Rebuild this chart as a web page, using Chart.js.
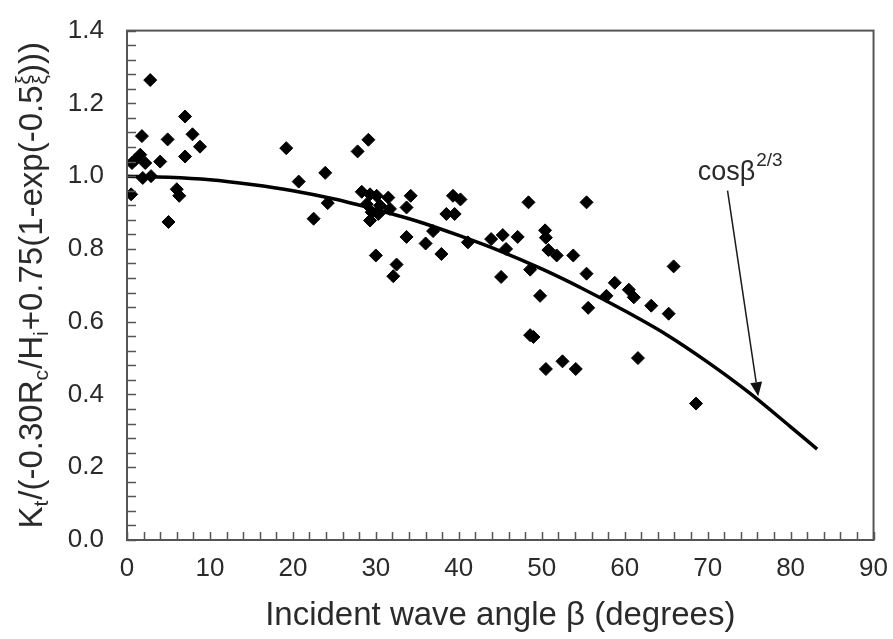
<!DOCTYPE html>
<html>
<head>
<meta charset="utf-8">
<script src="https://cdn.jsdelivr.net/npm/chart.js@4.4.1/dist/chart.umd.min.js"></script>
<style>
  html, body { margin: 0; padding: 0; background: #fff; }
  #wrap { width: 893px; height: 639px; }
</style>
</head>
<body>
<div id="wrap"><canvas id="chart" width="893" height="639"></canvas></div>
<script>
// measured points (angle in degrees, normalised transmission)
const angleDeg = [
  0.5, 0.6, 1.0, 1.6, 2.2, 1.9, 2.9, 1.8, 2.8, 4.0, 4.9, 5.0, 6.0, 6.3, 7.0, 7.0, 7.9, 8.8,
  19.2, 20.7, 22.5, 23.9, 24.2, 27.8, 29.1, 28.3, 29.3, 30.1, 31.5, 28.9, 30.5, 29.5, 30.3,
  29.3, 31.7, 34.2, 33.7, 39.3, 40.2, 38.5, 39.5, 33.7, 36.9, 36.0, 41.1, 37.9, 30.0, 32.5,
  32.1, 48.4, 55.4, 43.9, 45.3, 47.1, 45.7, 50.4, 50.5, 50.8, 51.8, 53.8, 45.1, 48.6, 55.4,
  49.8, 55.6, 58.8, 60.5, 61.1, 57.8, 63.2, 65.3, 65.9, 48.6, 49.0, 50.5, 52.5, 54.1, 61.6,
  68.6
];
const ktNorm = [
  0.950, 1.036, 1.045, 1.059, 1.036, 0.995, 1.000, 1.110, 1.264, 1.040, 1.101, 0.874, 0.964, 0.946, 1.164, 1.054, 1.115, 1.081,
  1.077, 0.985, 0.883, 1.009, 0.926, 1.068, 1.100, 0.957, 0.950, 0.946, 0.941, 0.923, 0.919, 0.901, 0.896,
  0.878, 0.910, 0.946, 0.914, 0.946, 0.936, 0.896, 0.896, 0.833, 0.849, 0.815, 0.818, 0.786, 0.782, 0.757,
  0.725, 0.928, 0.928, 0.827, 0.838, 0.833, 0.800, 0.851, 0.831, 0.797, 0.782, 0.782, 0.723, 0.743, 0.732,
  0.671, 0.638, 0.707, 0.688, 0.667, 0.671, 0.644, 0.622, 0.752, 0.563, 0.558, 0.470, 0.491, 0.470, 0.500,
  0.375
];

// cos(beta)^(2/3) curve
const curveAngle = [0, 5, 10, 15, 20, 25, 30, 35, 40, 45, 50, 55, 60, 65, 70, 75, 80, 83.2];
const curveValue = [1.0, 0.997, 0.99, 0.977, 0.96, 0.937, 0.908, 0.876, 0.837, 0.794, 0.745, 0.69, 0.63, 0.565, 0.489, 0.405, 0.311, 0.25];

const xTickLabels = [0, 10, 20, 30, 40, 50, 60, 70, 80, 90];
const yTickLabels = [0.0, 0.2, 0.4, 0.6, 0.8, 1.0, 1.2, 1.4];

// annotation: label position and arrow, in data units
const noteLabel = { x: 68.8, y: 0.99 };
const noteArrowFrom = { x: 72.4, y: 0.96 };
const noteArrowTo = { x: 76.1, y: 0.395 };

const FONT = '"Liberation Sans", Arial, Helvetica, sans-serif';
const TEXT = '#2a2a2a';
const AXIS = '#555555';

// frame with inward ticks on left and bottom
const frameTicks = {
  id: 'frameTicks',
  afterDatasetsDraw(chart) {
    const { ctx, chartArea: a, scales } = chart;
    ctx.save();
    ctx.strokeStyle = AXIS;
    ctx.lineWidth = 2;
    ctx.strokeRect(a.left, a.top, a.right - a.left, a.bottom - a.top);
    ctx.lineWidth = 1.5;
    ctx.beginPath();
    for (let i = 0; i <= 45; i++) {
      const px = Math.round(scales.x.getPixelForValue(i * 2)) + 0.5;
      ctx.moveTo(px, a.bottom);
      ctx.lineTo(px, a.bottom - 8);
    }
    for (let i = 0; i <= 35; i++) {
      const py = Math.round(scales.y.getPixelForValue(i * 0.04)) + 0.5;
      ctx.moveTo(a.left, py);
      ctx.lineTo(a.left + 9, py);
    }
    ctx.stroke();
    ctx.restore();
  }
};

// rotated y title with subscripts
const yTitle = {
  id: 'yTitle',
  afterDraw(chart) {
    const { ctx, chartArea: a } = chart;
    const parts = [
      ['K', 'n'], ['t', 'sub'], ['/(-0.30R', 'n'], ['c', 'sub'], ['/H', 'n'], ['i', 'sub'],
      ['+0.75(1-exp(-0.5', 'n'], ['ξ', 'stack'], [')))', 'n']
    ];
    const big = '33px ' + FONT, small = '21px ' + FONT;
    ctx.save();
    let total = 0;
    parts.forEach(([t, m]) => {
      ctx.font = m === 'n' ? big : small;
      total += ctx.measureText(t).width + (m === 'n' ? 0 : 1);
    });
    ctx.translate(30, (a.top + a.bottom) / 2);
    ctx.rotate(-Math.PI / 2);
    ctx.fillStyle = TEXT;
    ctx.textBaseline = 'alphabetic';
    let x = -total / 2;
    const base = 12;
    parts.forEach(([t, m]) => {
      if (m === 'n') {
        ctx.font = big;
        ctx.fillText(t, x, base);
        x += ctx.measureText(t).width;
      } else if (m === 'sub') {
        ctx.font = small;
        ctx.fillText(t, x, base + 6);
        x += ctx.measureText(t).width + 1;
      } else {
        ctx.font = small;
        ctx.fillText(t, x + 1, base - 12);
        ctx.fillText(t, x + 1, base + 5);
        x += ctx.measureText(t).width + 1;
      }
    });
    ctx.restore();
  }
};

// cos beta^(2/3) label and arrow
const curveNote = {
  id: 'curveNote',
  afterDatasetsDraw(chart) {
    const { ctx, scales } = chart;
    const lx = scales.x.getPixelForValue(noteLabel.x);
    const ly = scales.y.getPixelForValue(noteLabel.y);
    ctx.save();
    ctx.fillStyle = TEXT;
    ctx.textBaseline = 'alphabetic';
    ctx.font = '27px ' + FONT;
    ctx.fillText('cosβ', lx, ly);
    const w = ctx.measureText('cosβ').width;
    ctx.font = '19px ' + FONT;
    ctx.fillText('2/3', lx + w + 1, ly - 14);

    const x1 = scales.x.getPixelForValue(noteArrowFrom.x), y1 = scales.y.getPixelForValue(noteArrowFrom.y);
    const x2 = scales.x.getPixelForValue(noteArrowTo.x), y2 = scales.y.getPixelForValue(noteArrowTo.y);
    const ang = Math.atan2(y2 - y1, x2 - x1);
    const hl = 14, hw = 6;
    ctx.strokeStyle = '#1a1a1a';
    ctx.lineWidth = 1.5;
    ctx.beginPath();
    ctx.moveTo(x1, y1);
    ctx.lineTo(x2 - Math.cos(ang) * hl, y2 - Math.sin(ang) * hl);
    ctx.stroke();
    ctx.fillStyle = '#111';
    ctx.beginPath();
    ctx.moveTo(x2, y2);
    ctx.lineTo(x2 - Math.cos(ang) * hl + Math.sin(ang) * hw, y2 - Math.sin(ang) * hl - Math.cos(ang) * hw);
    ctx.lineTo(x2 - Math.cos(ang) * hl - Math.sin(ang) * hw, y2 - Math.sin(ang) * hl + Math.cos(ang) * hw);
    ctx.closePath();
    ctx.fill();
    ctx.restore();
  }
};

const points = angleDeg.map((x, i) => ({ x: x, y: ktNorm[i] }));
const curve = curveAngle.map((x, i) => ({ x: x, y: curveValue[i] }));

new Chart(document.getElementById('chart'), {
  type: 'scatter',
  data: {
    datasets: [
      {
        label: 'measured',
        data: points,
        pointStyle: 'rectRot',
        pointRadius: 6.5,
        backgroundColor: '#000',
        borderColor: '#000',
        borderWidth: 1,
        order: 2
      },
      {
        label: 'cos^(2/3)',
        data: curve,
        type: 'line',
        showLine: true,
        borderColor: '#000',
        borderWidth: 3.5,
        pointRadius: 0,
        cubicInterpolationMode: 'monotone',
        fill: false,
        order: 1
      }
    ]
  },
  plugins: [frameTicks, yTitle, curveNote],
  options: {
    responsive: false,
    animation: false,
    layout: { padding: { left: 0, top: 22, right: 19, bottom: 0 } },
    plugins: {
      legend: { display: false },
      tooltip: { enabled: false }
    },
    scales: {
      x: {
        type: 'linear',
        min: 0,
        max: 90,
        afterBuildTicks: (s) => { s.ticks = xTickLabels.map(v => ({ value: v })); },
        afterFit: (s) => { s.height = 99; },
        ticks: {
          color: TEXT,
          font: { family: FONT, size: 26 },
          padding: 5,
          maxRotation: 0,
          autoSkip: false
        },
        grid: { display: false },
        border: { display: false },
        title: {
          display: true,
          text: 'Incident wave angle β (degrees)',
          color: TEXT,
          font: { family: FONT, size: 33 },
          padding: { top: 0, bottom: 3 }
        }
      },
      y: {
        type: 'linear',
        min: 0,
        max: 1.4,
        afterBuildTicks: (s) => { s.ticks = yTickLabels.map(v => ({ value: v })); },
        afterFit: (s) => { s.width = 127; },
        ticks: {
          color: TEXT,
          font: { family: FONT, size: 26 },
          padding: 15,
          callback: (v) => v.toFixed(1)
        },
        grid: { display: false },
        border: { display: false }
      }
    }
  }
});
</script>
</body>
</html>
